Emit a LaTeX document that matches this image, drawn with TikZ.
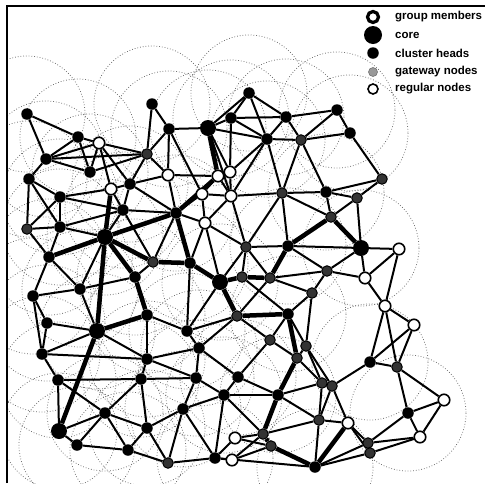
\documentclass[tikz,border=0pt]{standalone}
\usepackage{fontspec}
\setmainfont{Liberation Sans}
\pgfdeclarelayer{bg}
\pgfdeclarelayer{ranges}
\pgfsetlayers{ranges,bg,main}
\tikzset{
  head/.style={circle, fill=black, inner sep=0pt, minimum size=11.5pt},
  corenode/.style={circle, fill=black, inner sep=0pt, minimum size=16pt},
  gate/.style={circle, fill=black!80, draw=black, line width=1pt, inner sep=0pt, minimum size=10.5pt},
  reg/.style={circle, fill=white, draw=black, line width=1.6pt, inner sep=0pt, minimum size=11.5pt},
  member/.style={circle, fill=white, draw=black, line width=3.2pt, inner sep=0pt, minimum size=11pt},
  regthin/.style={circle, fill=white, draw=black, line width=1.6pt, inner sep=0pt, minimum size=10pt},
  gatelight/.style={circle, fill=black!40, draw=black!55, line width=0.6pt, inner sep=0pt, minimum size=9pt},
  legendcore/.style={circle, fill=black, inner sep=0pt, minimum size=18pt},
  link/.style={line width=2pt},
  tree/.style={line width=4.5pt},
  radiorange/.style={draw=black!60, dotted, line width=0.75pt},
  legendtext/.style={anchor=west, font=\bfseries\fontsize{11.5}{12}\selectfont, inner sep=0pt},
}
\begin{document}
\begin{tikzpicture}[x=1pt, y=-1pt]
\useasboundingbox (0,0) rectangle (485,483);

% frame
\draw[line width=1.5pt] (7,483) -- (7,6) -- (485,6);

% cluster heads
\foreach \i/\x/\y in {1/27/114, 2/152/104, 3/78/137, 5/46/159, 7/169/129, 9/231/118,
  10/249/93, 11/286/117, 12/337/110, 13/350/133, 14/267/139, 17/29/179, 18/90/172,
  20/130/184, 22/60/197, 28/326/192, 30/123/210, 31/176/213, 35/60/227, 38/288/246,
  41/49/257, 43/190/263, 49/135/277, 50/80/289, 51/33/296, 54/147/315, 56/288/314,
  58/47/323, 60/187/331, 61/199/348, 65/42/354, 66/147/359, 67/370/362, 69/238/377,
  70/58/380, 71/141/379, 72/196/378, 75/278/395, 76/224/395, 78/105/413, 79/183/409,
  80/408/413, 84/147/428, 91/77/445, 92/128/450, 94/215/458, 96/315/467}
  \node[head] (n\i) at (\x,\y) {};
% core-sized nodes
\foreach \i/\x/\y in {8/208/128, 36/105/237, 39/361/248, 44/220/282, 59/97/331, 83/59/431}
  \node[corenode] (n\i) at (\x,\y) {};
% gateway nodes
\foreach \i/\x/\y in {6/147/154, 15/301/140, 16/382/179, 27/282/193, 29/357/198, 33/331/217,
  34/27/229, 37/246/247, 42/153/262, 45/242/277, 46/270/278, 47/327/271, 52/312/293,
  55/237/316, 62/270/340, 63/306/346, 64/297/358, 68/397/367, 73/322/383, 74/332/386,
  81/319/420, 85/263/434, 86/271/446, 89/368/443, 90/370/453, 93/168/463}
  \node[gate] (n\i) at (\x,\y) {};
% regular nodes
\foreach \i/\x/\y in {4/99/143, 19/168/175, 21/111/189, 23/230/172, 24/218/176, 25/202/194,
  26/231/196, 32/205/223, 40/399/249, 48/365/278, 53/385/306, 57/414/325, 77/444/400,
  82/348/423, 87/235/438, 88/420/437, 95/232/460}
  \node[reg] (n\i) at (\x,\y) {};

% transmission ranges of the cluster heads
\begin{pgfonlayer}{ranges}
  \clip (7,6) rectangle (485,483);
  \foreach \i in {1,2,3,5,7,8,9,10,11,12,13,14,17,18,20,22,28,30,31,35,36,38,39,41,43,44,
    49,50,51,54,56,58,59,60,61,65,66,67,69,70,71,72,75,76,78,79,80,83,84,91,92,94,96}
    \draw[radiorange] (n\i.center) circle[radius=58];
\end{pgfonlayer}

% links between neighbours
\begin{pgfonlayer}{bg}
\foreach \a/\b in {1/3, 1/5, 3/4, 3/5, 3/18, 4/5, 4/18, 4/6, 4/20, 4/21, 5/17, 5/18, 5/6,
  2/6, 2/7, 6/7, 6/18, 6/20, 6/19, 7/8, 7/19, 7/25,
  8/9, 8/10, 8/14, 8/23, 8/26, 9/10, 9/11, 9/14, 9/23, 10/11, 10/14,
  11/12, 11/14, 11/15, 12/13, 12/15, 13/15, 13/16, 14/15, 14/27, 14/26, 14/23,
  15/27, 15/28, 16/28, 16/29, 27/28, 27/33, 27/38, 27/37, 27/26,
  28/29, 28/33, 29/33, 29/39,
  23/24, 23/26, 24/25, 24/26, 25/26, 25/31, 25/32, 26/32, 26/37, 19/31, 19/24, 19/20,
  20/30, 20/21, 20/31, 21/30, 21/22, 22/17, 22/34, 22/35, 22/30,
  30/31, 30/36, 30/35, 30/42, 31/32, 31/42, 32/37, 32/43, 32/44,
  17/34, 17/35, 34/35, 34/41, 35/41, 35/36, 36/50,
  37/38, 37/44, 37/45, 37/46, 38/39, 38/47, 39/40, 39/47, 39/48, 40/48, 40/53,
  41/50, 41/51, 42/49, 43/60, 44/60, 45/56, 46/55, 46/52, 46/47,
  47/48, 47/52, 48/53, 49/50, 50/51, 50/59, 51/58, 51/65,
  52/56, 52/63, 53/67, 53/68, 53/57, 54/60, 54/66,
  55/62, 55/61, 55/60, 56/62, 56/63, 57/68, 57/67, 58/59, 58/65,
  59/65, 59/66, 60/61, 61/69, 61/72, 61/66, 62/64, 62/69,
  63/64, 63/73, 63/74, 64/73, 65/70, 65/66, 66/71, 66/72,
  67/68, 67/74, 68/80, 68/77, 69/76, 69/75,
  70/71, 70/78, 70/83, 71/78, 71/84, 71/72, 72/76, 72/79,
  73/74, 73/75, 73/81, 74/82, 74/81, 75/76, 75/81,
  76/79, 76/85, 76/94, 77/80, 77/88,
  78/83, 78/84, 78/91, 78/92, 79/84, 79/93, 79/94, 80/88, 80/89,
  81/82, 81/85, 81/96, 82/89, 82/90, 83/91, 84/92, 84/93,
  85/87, 85/95, 86/87, 86/95, 87/94, 88/90, 88/89,
  89/90, 89/96, 90/96, 91/92, 92/93, 93/94, 94/95, 94/96}
  \draw[link] (n\a) -- (n\b);
% multicast tree
\foreach \a/\b in {8/24, 24/31, 31/36, 21/36, 36/41, 36/59, 59/83, 36/49, 49/54, 54/59,
  36/42, 42/43, 31/43, 43/44, 44/45, 45/46, 46/38, 38/33, 33/39, 44/55, 55/56,
  56/64, 64/75, 75/85, 85/86, 86/96, 82/96}
  \draw[tree] (n\a) -- (n\b);
\end{pgfonlayer}

% legend
\node[member]     (l1) at (373,17) {};
\node[legendcore] (l2) at (373,35) {};
\node[head]       (l3) at (373,53) {};
\node[gatelight]  (l4) at (373,72) {};
\node[regthin]    (l5) at (373,89) {};
\node[legendtext] (t1) at (395,17) {group members};
\node[legendtext] (t2) at (395,35) {core};
\node[legendtext] (t3) at (395,53) {cluster heads};
\node[legendtext] (t4) at (395,72) {gateway nodes};
\node[legendtext] (t5) at (395,89) {regular nodes};
\end{tikzpicture}
\end{document}
